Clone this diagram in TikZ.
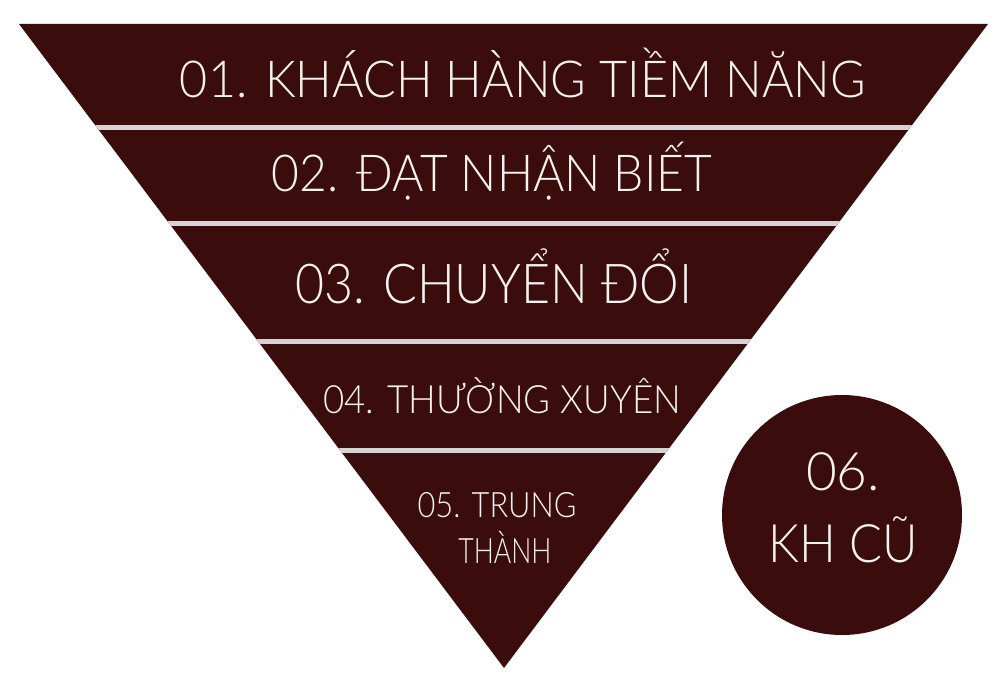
\documentclass[tikz,border=0pt]{standalone}
\usepackage{fontspec}
\IfFontExistsTF{Lato Light}{\setmainfont{Lato Light}}{\setmainfont{Lato}}
\usepackage{graphicx}
\definecolor{funnel}{HTML}{3A0D0C}
\definecolor{band}{HTML}{D4D4D4}
\definecolor{txt}{HTML}{F6F2F0}
\tikzset{
  lbl/.style={text=txt, inner sep=0pt, anchor=base},
  bandline/.style={draw=band, line width=5pt},
}
\newcommand\lbltext[3]{\scalebox{#1}[1]{\fontsize{#2}{#2}\selectfont #3}}
\begin{document}
\begin{tikzpicture}[x=1pt,y=-1pt]
\useasboundingbox (0,0) rectangle (1000,700);
\fill[white] (0,0) rectangle (1000,700);
\coordinate (tl) at (19,24);
\coordinate (tr) at (988,24);
\coordinate (ap) at (504,668);
\fill[funnel] (tl) -- (tr) -- (ap) -- cycle;
\begin{scope}
\clip (tl) -- (tr) -- (ap) -- cycle;
\coordinate (b1l) at (0,127.5);   \coordinate (b1r) at (1000,127.5);
\coordinate (b2l) at (0,223.5);   \coordinate (b2r) at (1000,223.5);
\coordinate (b3l) at (0,341);     \coordinate (b3r) at (1000,341);
\coordinate (b4l) at (0,450.5);   \coordinate (b4r) at (1000,450.5);
\draw[bandline] (b1l) -- (b1r);
\draw[bandline] (b2l) -- (b2r);
\draw[bandline] (b3l) -- (b3r);
\draw[bandline] (b4l) -- (b4r);
\end{scope}
\node[lbl] (t1) at (523,98) {\lbltext{0.95}{51}{01. KHÁCH HÀNG TIỀM NĂNG}};
\node[lbl] (t2) at (492,192) {\lbltext{0.94}{51}{02. ĐẠT NHẬN BIẾT}};
\node[lbl] (t3) at (494,303) {\lbltext{0.91}{55}{03. CHUYỂN ĐỔI}};
\node[lbl] (t4) at (502,413) {\lbltext{0.94}{39}{04. THƯỜNG XUYÊN}};
\node[lbl] (t5a) at (497,517) {\lbltext{0.88}{35}{05. TRUNG}};
\node[lbl] (t5b) at (505,563) {\lbltext{0.76}{35}{THÀNH}};
\node[circle, fill=funnel, minimum size=240pt, inner sep=0pt] (c6) at (842,515) {};
\node[lbl] (t6a) at (843,490) {\lbltext{1}{53}{06.}};
\node[lbl] (t6b) at (843,562) {\lbltext{0.92}{53}{KH CŨ}};
\end{tikzpicture}
\end{document}
